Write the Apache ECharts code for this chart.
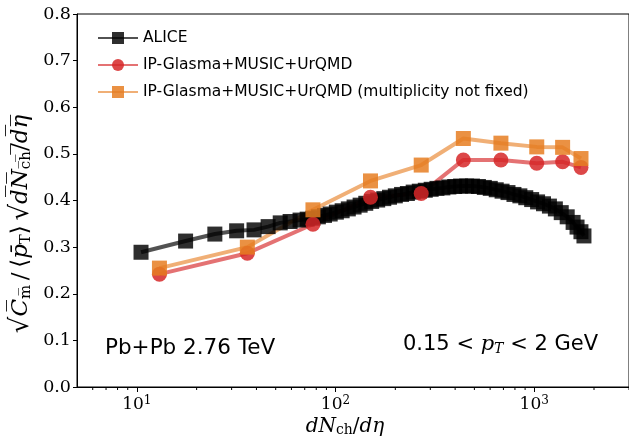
<!DOCTYPE html>
<html>
<head>
<meta charset="utf-8">
<script src="https://cdn.jsdelivr.net/npm/echarts@6/dist/echarts.min.js"></script>
<style>
  html, body { margin: 0; padding: 0; background: #fff; }
  #chart { width: 629px; height: 440px; }
</style>
</head>
<body>
<div id="chart"></div>
<script>
// ALICE data (dNch/deta, value)
const aliceX = [10.5, 17.6, 24.7, 31.8, 38.9, 45.8, 52.7, 59.1, 66.3, 72, 77, 82, 88, 94,
  101, 108, 116, 124, 133, 142, 152, 163, 175, 187, 200, 215, 230, 246, 264, 283, 303,
  324, 347, 372, 398, 426, 457, 489, 524, 561, 601, 644, 689, 738, 791, 847, 907, 971,
  1040, 1114, 1193, 1278, 1368, 1466, 1570, 1643, 1719, 1780];
const aliceY = [0.289, 0.313, 0.328, 0.335, 0.337, 0.344, 0.352, 0.355, 0.358, 0.360,
  0.362, 0.365, 0.368, 0.371, 0.375, 0.378, 0.382, 0.386, 0.390, 0.394, 0.398, 0.401,
  0.404, 0.407, 0.410, 0.413, 0.415, 0.418, 0.420, 0.422, 0.424, 0.426, 0.427, 0.429,
  0.430, 0.431, 0.431, 0.431, 0.430, 0.428, 0.426, 0.423, 0.420, 0.417, 0.413, 0.410,
  0.406, 0.402, 0.397, 0.393, 0.388, 0.382, 0.374, 0.365, 0.353, 0.343, 0.333, 0.324];

// model points (same multiplicity classes)
const modelX = [13, 36, 77, 150, 270, 440, 680, 1030, 1390, 1720];
const ipgY = [0.242, 0.287, 0.349, 0.407, 0.415, 0.487, 0.487, 0.480, 0.483, 0.471];
const ipgFreeY = [0.255, 0.300, 0.380, 0.442, 0.476, 0.533, 0.523, 0.515, 0.514, 0.490];

const minorTicks = [6, 7, 8, 9, 20, 30, 40, 50, 60, 70, 80, 90,
  200, 300, 400, 500, 600, 700, 800, 900, 2000, 3000];

const names = ["ALICE", "IP-Glasma+MUSIC+UrQMD", "IP-Glasma+MUSIC+UrQMD (multiplicity not fixed)"];

const serif = "'DejaVu Serif', 'Liberation Serif', serif";
const sans = "'DejaVu Sans', sans-serif";

const zip = (xs, ys) => xs.map((x, i) => [x, ys[i]]);

const chart = echarts.init(document.getElementById("chart"));

chart.setOption({
  animation: false,
  grid: { left: 77, top: 14, right: -8, bottom: 53, show: true, borderColor: "#000", borderWidth: 1 },
  legend: {
    data: names,
    orient: "vertical",
    left: 92,
    top: 25,
    itemWidth: 40,
    itemHeight: 15,
    itemGap: 11,
    textStyle: { fontFamily: sans, fontSize: 15.5, color: "#000" }
  },
  xAxis: {
    type: "log",
    logBase: 10,
    min: 5,
    max: 3000,
    axisLine: { lineStyle: { color: "#000", width: 1 } },
    axisTick: { length: 5, lineStyle: { color: "#000" } },
    splitLine: { show: false },
    axisLabel: {
      margin: 8,
      showMinLabel: false,
      showMaxLabel: false,
      formatter: (v) => {
        const e = Math.log10(v);
        if (Math.abs(e - Math.round(e)) > 1e-6) return "";
        return "{b|10}{s|" + Math.round(e) + "}";
      },
      rich: {
        b: { fontFamily: serif, fontSize: 17, color: "#000" },
        s: { fontFamily: serif, fontSize: 12, color: "#000", verticalAlign: "top", padding: [0, 0, 8, 0] }
      }
    }
  },
  yAxis: {
    type: "value",
    min: 0,
    max: 0.8,
    interval: 0.1,
    axisLine: { show: true, lineStyle: { color: "#000", width: 1 } },
    axisTick: { show: true, length: 4, lineStyle: { color: "#000" } },
    splitLine: { show: false },
    axisLabel: {
      margin: 6,
      fontFamily: serif,
      fontSize: 17.5,
      color: "#000",
      formatter: (v) => v.toFixed(1)
    }
  },
  graphic: [
    {
      type: "text",
      x: 21,
      y: 224,
      rotation: Math.PI / 2,
      style: {
        text: "{big|√}{i|C\u0305}{sub|m\u0305}{r|\u2009/\u2009⟨}{i|p\u0304}{sub|T}{r|⟩\u2009}{big|√}{i|d\u0305N\u0305}{sub|c\u0305h\u0305}{r|/\u0305}{i|d\u0305η\u0305}",
        align: "center",
        verticalAlign: "middle",
        rich: {
          big: { fontFamily: serif, fontSize: 26, color: "#000" },
          r: { fontFamily: serif, fontSize: 23, color: "#000" },
          i: { fontFamily: serif, fontSize: 23, fontStyle: "italic", color: "#000" },
          sub: { fontFamily: serif, fontSize: 15, color: "#000", verticalAlign: "bottom", padding: [7, 0, 0, 0] }
        }
      }
    },
    {
      type: "text",
      x: 345,
      y: 427,
      style: {
        text: "{i|dN}{sub|ch}{r|/}{i|dη}",
        align: "center",
        verticalAlign: "middle",
        rich: {
          r: { fontFamily: serif, fontSize: 20, color: "#000" },
          i: { fontFamily: serif, fontSize: 20, fontStyle: "italic", color: "#000" },
          sub: { fontFamily: serif, fontSize: 14, color: "#000", verticalAlign: "bottom", padding: [6, 0, 0, 0] }
        }
      }
    },
    {
      type: "text",
      x: 105,
      y: 348,
      style: { text: "Pb+Pb 2.76 TeV", fontFamily: sans, fontSize: 21.5, fill: "#000", verticalAlign: "middle" }
    },
    {
      type: "text",
      x: 598,
      y: 345,
      style: {
        text: "{r|0.15 }{m|< }{i|p}{sub|T}{m| <}{r| 2 GeV}",
        align: "right",
        verticalAlign: "middle",
        rich: {
          r: { fontFamily: sans, fontSize: 21, color: "#000" },
          m: { fontFamily: serif, fontSize: 21, color: "#000" },
          i: { fontFamily: serif, fontSize: 21, fontStyle: "italic", color: "#000" },
          sub: { fontFamily: serif, fontSize: 14, fontStyle: "italic", color: "#000", verticalAlign: "bottom", padding: [8, 0, 0, 0] }
        }
      }
    }
  ],
  series: [
    {
      name: names[0],
      type: "line",
      data: zip(aliceX, aliceY),
      symbol: "rect",
      symbolSize: 15,
      lineStyle: { color: "rgba(0,0,0,0.68)", width: 4 },
      itemStyle: { color: "rgba(0,0,0,0.82)" },
      markLine: {
        silent: true,
        symbol: "none",
        label: { show: false },
        lineStyle: { color: "#000", type: "dotted", width: 1 },
        data: [{ yAxis: 0 }]
      }
    },
    {
      name: names[1],
      type: "line",
      data: zip(modelX, ipgY),
      symbol: "circle",
      symbolSize: 15,
      lineStyle: { color: "rgba(214,39,40,0.65)", width: 4 },
      itemStyle: { color: "rgba(214,39,40,0.85)" }
    },
    {
      name: names[2],
      type: "line",
      data: zip(modelX, ipgFreeY),
      symbol: "rect",
      symbolSize: 15,
      lineStyle: { color: "rgba(230,126,34,0.62)", width: 4 },
      itemStyle: { color: "rgba(230,126,34,0.85)" }
    },
    {
      type: "custom",
      coordinateSystem: "cartesian2d",
      silent: true,
      clip: false,
      data: minorTicks.map((v) => [v, 0]),
      renderItem: (params, api) => {
        const p = api.coord([api.value(0), 0]);
        return {
          type: "line",
          shape: { x1: p[0], y1: p[1], x2: p[0], y2: p[1] + 3 },
          style: { stroke: "#000", lineWidth: 1 }
        };
      }
    }
  ]
});
</script>
</body>
</html>
